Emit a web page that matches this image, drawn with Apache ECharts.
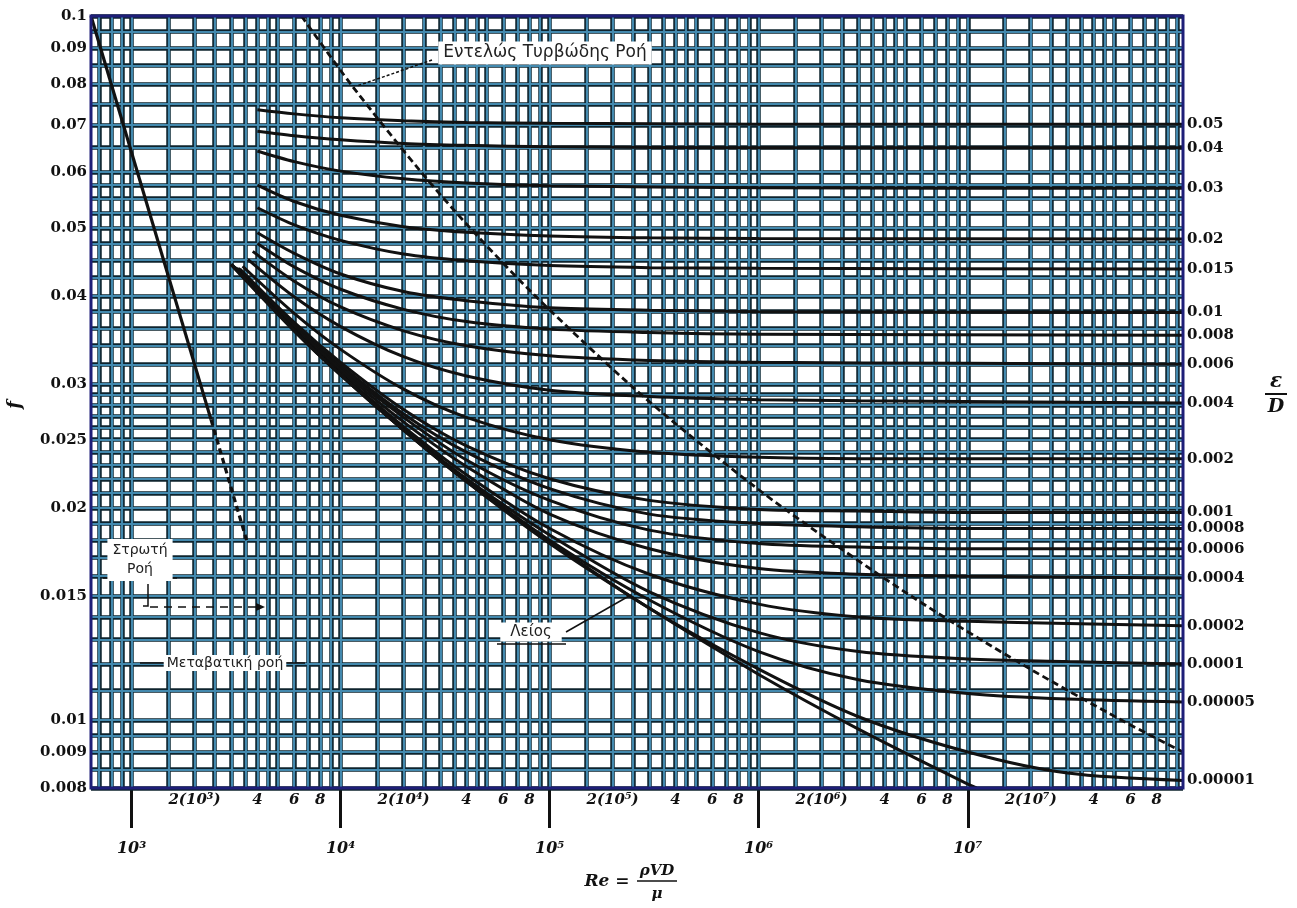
<!DOCTYPE html>
<html><head><meta charset="utf-8">
<script src="https://cdn.jsdelivr.net/npm/echarts@6.0.0/dist/echarts.min.js"></script>
<style>html,body{margin:0;padding:0;background:#fff}#c{width:1297px;height:908px}</style>
</head><body><div id="c"></div>
<script>
// ---- axis ranges & tick labels ----
const reMin = 640, reMax = 1.07e8, fMin = 0.008, fMax = 0.1;
const fTickLabels = [0.1, 0.09, 0.08, 0.07, 0.06, 0.05, 0.04, 0.03, 0.025, 0.02, 0.015, 0.01, 0.009, 0.008];
const reMajorTicks = [1e3, 1e4, 1e5, 1e6, 1e7];
const reMinorTicks = [2e3, 4e3, 6e3, 8e3, 2e4, 4e4, 6e4, 8e4, 2e5, 4e5, 6e5, 8e5, 2e6, 4e6, 6e6, 8e6, 2e7, 4e7, 6e7, 8e7];
const gridMantissas = [1, 1.5, 2, 2.5, 3, 3.5, 4, 4.5, 5, 6, 7, 8, 9];
const gridDecades = [1e2, 1e3, 1e4, 1e5, 1e6, 1e7, 1e8];
const gridF = [0.008, 0.0085, 0.009, 0.0095, 0.01, 0.011, 0.012, 0.013, 0.014, 0.015, 0.016, 0.017, 0.018, 0.019,
  0.02, 0.021, 0.022, 0.023, 0.024, 0.025, 0.026, 0.027, 0.028, 0.029, 0.03, 0.032, 0.034, 0.036, 0.038,
  0.04, 0.0425, 0.045, 0.0475, 0.05, 0.0525, 0.055, 0.0575, 0.06, 0.065, 0.07, 0.075, 0.08, 0.085, 0.09, 0.095, 0.1];

// ---- relative roughness curves [Re, f] ----
const roughness = ['0.05', '0.04', '0.03', '0.02', '0.015', '0.01', '0.008', '0.006', '0.004', '0.002', '0.001',
  '0.0008', '0.0006', '0.0004', '0.0002', '0.0001', '0.00005', '0.00001'];
const c0_05 = [[4000,0.0736],[6000,0.0726],[1e4,0.0717],[2e4,0.0710],[4e4,0.0706],[1e5,0.0704],[1e6,0.0702],[1.07e8,0.0702]];
const c0_04 = [[4000,0.0686],[6000,0.0676],[1e4,0.0667],[2e4,0.0659],[4e4,0.0655],[1e5,0.0652],[1e6,0.0650],[1.07e8,0.0650]];
const c0_03 = [[4000,0.0643],[6000,0.0621],[1e4,0.0602],[2e4,0.0587],[4e4,0.0579],[1e5,0.0574],[1e6,0.0570],[1.07e8,0.0569]];
const c0_02 = [[4000,0.0575],[6000,0.0545],[1e4,0.0521],[2e4,0.0502],[4e4,0.0493],[1e5,0.0487],[3e5,0.0484],[1e6,0.0483],[1.07e8,0.0482]];
const c0_015 = [[4000,0.0534],[6000,0.0505],[1e4,0.0480],[2e4,0.0459],[4e4,0.0449],[1e5,0.0442],[3e5,0.0439],[1e6,0.0438],[1.07e8,0.0437]];
const c0_01 = [[4000,0.0492],[6000,0.0460],[1e4,0.0430],[2e4,0.0406],[4e4,0.0394],[1e5,0.0385],[3e5,0.0382],[1e6,0.0380],[1.07e8,0.0379]];
const c0_008 = [[4000,0.0475],[6000,0.0440],[1e4,0.0409],[2e4,0.0383],[4e4,0.0368],[1e5,0.0359],[3e5,0.0355],[1e6,0.0353],[1.07e8,0.0352]];
const c0_006 = [[3800,0.0463],[6000,0.0420],[1e4,0.0386],[2e4,0.0357],[4e4,0.0340],[1e5,0.0329],[3e5,0.0324],[1e6,0.0322],[1e7,0.0321],[1.07e8,0.0320]];
const c0_004 = [[3600,0.0451],[6000,0.0399],[1e4,0.0362],[2e4,0.0328],[4e4,0.0308],[1e5,0.0294],[3e5,0.0288],[1e6,0.0285],[3e6,0.0284],[1.07e8,0.0282]];
const c0_002 = [[3400,0.0441],[6000,0.0378],[1e4,0.0336],[2e4,0.0295],[4e4,0.0269],[1e5,0.0250],[3e5,0.0240],[1e6,0.0236],[3e6,0.0235],[1e7,0.0235],[1.07e8,0.0235]];
const c0_001 = [[3300,0.0437],[6000,0.0367],[1e4,0.0322],[2e4,0.0276],[4e4,0.0245],[1e5,0.0220],[3e5,0.0205],[1e6,0.0199],[3e6,0.0198],[1e7,0.0197],[1.07e8,0.0197]];
const c0_0008 = [[3250,0.0438],[6000,0.0365],[1e4,0.0319],[2e4,0.0272],[4e4,0.0240],[1e5,0.0213],[3e5,0.0196],[1e6,0.0190],[3e6,0.0188],[1e7,0.0187],[1.07e8,0.0187]];
const c0_0006 = [[3200,0.0438],[6000,0.0363],[1e4,0.0316],[2e4,0.0269],[4e4,0.0234],[1e5,0.0205],[3e5,0.0186],[1e6,0.0178],[3e6,0.0176],[1e7,0.0175],[1.07e8,0.0175]];
const c0_0004 = [[3150,0.0439],[6000,0.0361],[1e4,0.0314],[2e4,0.0265],[4e4,0.0229],[1e5,0.0196],[3e5,0.0175],[1e6,0.0164],[3e6,0.0161],[1e7,0.0160],[1.07e8,0.0159]];
const c0_0002 = [[3100,0.0440],[6000,0.0359],[1e4,0.0311],[2e4,0.0261],[4e4,0.0223],[1e5,0.0187],[3e5,0.0161],[1e6,0.0146],[3e6,0.0140],[1e7,0.0138],[3e7,0.0137],[1.07e8,0.0136]];
const c0_0001 = [[3050,0.0442],[6000,0.0358],[1e4,0.0310],[2e4,0.0259],[4e4,0.0220],[1e5,0.0183],[3e5,0.0152],[1e6,0.0133],[3e6,0.0125],[1e7,0.0122],[3e7,0.0121],[1.07e8,0.0120]];
const c0_00005 = [[3000,0.0444],[6000,0.0358],[1e4,0.0309],[2e4,0.0258],[4e4,0.0219],[1e5,0.0180],[3e5,0.0148],[1e6,0.0125],[3e6,0.0114],[1e7,0.0109],[3e7,0.0107],[1.07e8,0.0106]];
const c0_00001 = [[3000,0.0444],[6000,0.0357],[1e4,0.0309],[2e4,0.0258],[4e4,0.0218],[1e5,0.0179],[3e5,0.0144],[1e6,0.0118],[3e6,0.0101],[1e7,0.0090],[3e7,0.0084],[1.07e8,0.0082]];
const smoothPipe = [[3000,0.0443],[6000,0.0357],[1e4,0.0309],[2e4,0.0258],[4e4,0.0218],[1e5,0.0178],[3e5,0.0144],[1e6,0.0116],[3e6,0.0097],[1e7,0.0081],[1.1e7,0.0080]];
const laminarSolid = [[640,0.1],[2400,0.0267]];
const laminarDashed = [[2400,0.0267],[3550,0.0180]];
const fullTurbulence = [[6500,0.1],[11200,0.08],[24300,0.06],[41600,0.05],[85500,0.04],[240000,0.03],[497000,0.025],
  [1.31e6,0.02],[5.34e6,0.015],[1.81e7,0.012],[5.4e7,0.01],[1.07e8,0.009]];
const roughCurves = [c0_05, c0_04, c0_03, c0_02, c0_015, c0_01, c0_008, c0_006, c0_004, c0_002, c0_001,
  c0_0008, c0_0006, c0_0004, c0_0002, c0_0001, c0_00005, c0_00001];

// ---- build ----
const L = Math.log10;
const SUP = {'0':'⁰','1':'¹','2':'²','3':'³','4':'⁴','5':'⁵','6':'⁶','7':'⁷','8':'⁸','9':'⁹'};
const sup = n => String(n).split('').map(c => SUP[c]).join('');
const gridX = [];
gridDecades.forEach(d => gridMantissas.forEach(m => { const v = m * d; if (v >= reMin && v <= reMax) gridX.push(v); }));
const gridMarks = gridX.map(v => ({xAxis: v})).concat(gridF.map(v => ({yAxis: v})));

const serif = '"DejaVu Serif", "Liberation Serif", serif';
const sans = '"DejaVu Sans", "Liberation Sans", sans-serif';
const INK = '#111';

function gridSeries(color, width, z) {
  return {
    type: 'line', data: [[1000, 0.05]], symbol: 'none', lineStyle: {opacity: 0}, silent: true, z: z,
    xAxisIndex: 0, yAxisIndex: 0,
    markLine: {
      silent: true, symbol: ['none', 'none'], label: {show: false}, animation: false, precision: 10,
      emphasis: {disabled: true},
      lineStyle: {color: color, width: width, type: 'solid', opacity: 1},
      data: gridMarks
    }
  };
}

const series = [gridSeries('#0e232d', 4.5, 1), gridSeries('#4389ae', 2.2, 2)];
roughCurves.forEach((d, i) => {
  series.push({
    type: 'line', name: roughness[i], data: d, xAxisIndex: 0, yAxisIndex: 0,
    smooth: 0.3, symbol: 'none', z: 5,
    lineStyle: {color: INK, width: 3},
    endLabel: {show: true, formatter: '{a}', distance: 4, color: INK, fontFamily: serif, fontWeight: 'bold', fontSize: 15}
  });
});
series.push({type: 'line', data: smoothPipe, smooth: 0.3, symbol: 'none', z: 5,
  lineStyle: {color: INK, width: 3}});
series.push({type: 'line', data: laminarSolid, symbol: 'none', z: 5, lineStyle: {color: INK, width: 3.2}});
series.push({type: 'line', data: laminarDashed, symbol: 'none', z: 5, lineStyle: {color: INK, width: 3.2, type: [6, 4]}});
series.push({type: 'line', data: fullTurbulence, smooth: 0.3, symbol: 'none', z: 6,
  lineStyle: {color: INK, width: 2.8, type: [7, 4]}});

const fLabelFmt = v => {
  let best = fTickLabels[0];
  fTickLabels.forEach(t => { if (Math.abs(L(t) - v) < Math.abs(L(best) - v)) best = t; });
  return String(best);
};
const reMinorFmt = v => {
  const e = Math.floor(v + 1e-9);
  const m = Math.round(Math.pow(10, v - e));
  return m === 2 ? '2(10' + sup(e) + ')' : String(m);
};

const option = {
  animation: false,
  backgroundColor: '#fff',
  grid: {left: 91, right: 114, top: 16, bottom: 120, show: true, backgroundColor: '#fff', borderWidth: 0},
  xAxis: [
    {type: 'log', logBase: 10, min: reMin, max: reMax, show: false},
    {type: 'value', min: L(reMin), max: L(reMax), position: 'bottom',
      axisLine: {show: false}, splitLine: {show: false},
      axisTick: {show: true, customValues: reMajorTicks.map(L), length: 40, lineStyle: {color: INK, width: 3}},
      axisLabel: {customValues: reMajorTicks.map(L), margin: 53, formatter: v => '10' + sup(Math.round(v)),
        color: INK, fontFamily: serif, fontWeight: 'bold', fontStyle: 'italic', fontSize: 16}},
    {type: 'value', min: L(reMin), max: L(reMax), position: 'bottom',
      axisLine: {show: false}, splitLine: {show: false}, axisTick: {show: false},
      axisLabel: {customValues: reMinorTicks.map(L), margin: 5, formatter: reMinorFmt,
        color: INK, fontFamily: serif, fontWeight: 'bold', fontStyle: 'italic', fontSize: 15}}
  ],
  yAxis: [
    {type: 'log', logBase: 10, min: fMin, max: fMax, show: false},
    {type: 'value', min: L(fMin), max: L(fMax), position: 'left',
      axisLine: {show: false}, splitLine: {show: false}, axisTick: {show: false},
      axisLabel: {customValues: fTickLabels.map(L), margin: 4, formatter: fLabelFmt,
        color: INK, fontFamily: serif, fontWeight: 'bold', fontSize: 15}}
  ],
  series: series,
  graphic: [
    {type: 'rect', shape: {x: 91, y: 16, width: 1092, height: 772}, style: {fill: 'none', stroke: '#1e1e78', lineWidth: 3}, z: 100},
    // complete turbulence label
    {type: 'line', shape: {x1: 432, y1: 60, x2: 357, y2: 86}, style: {stroke: INK, lineWidth: 1.5, lineDash: [3, 2]}, z: 50},
    {type: 'text', x: 545, y: 53, z: 51, style: {text: 'Εντελώς Τυρβώδης Ροή', fontFamily: sans, fontSize: 17,
      fill: '#222', align: 'center', verticalAlign: 'middle', backgroundColor: '#fff', padding: [3, 5]}},
    // laminar flow label
    {type: 'text', x: 140, y: 560, z: 51, style: {text: 'Στρωτή\nΡοή', fontFamily: sans, fontSize: 14, lineHeight: 19,
      fill: '#222', align: 'center', verticalAlign: 'middle', backgroundColor: '#fff', padding: [2, 5]}},
    {type: 'line', shape: {x1: 103, y1: 578, x2: 177, y2: 578}, style: {stroke: INK, lineWidth: 1.5}, z: 50},
    {type: 'polyline', shape: {points: [[148, 584], [148, 606], [143, 606]]}, style: {stroke: INK, lineWidth: 1.5, fill: 'none'}, z: 50},
    {type: 'line', shape: {x1: 150, y1: 607, x2: 258, y2: 607}, style: {stroke: INK, lineWidth: 1.5, lineDash: [8, 6]}, z: 50},
    {type: 'polygon', shape: {points: [[265, 607], [256, 603], [256, 611]]}, style: {fill: INK}, z: 50},
    // transition label
    {type: 'line', shape: {x1: 140, y1: 663, x2: 305, y2: 663}, style: {stroke: INK, lineWidth: 1.5}, z: 50},
    {type: 'text', x: 225, y: 663, z: 51, style: {text: 'Μεταβατική ροή', fontFamily: sans, fontSize: 14,
      fill: '#222', align: 'center', verticalAlign: 'middle', backgroundColor: '#fff', padding: [1, 3]}},
    // smooth pipe label
    {type: 'line', shape: {x1: 566, y1: 632, x2: 629, y2: 596}, style: {stroke: INK, lineWidth: 1.5}, z: 50},
    {type: 'text', x: 531, y: 632, z: 51, style: {text: 'Λείος', fontFamily: sans, fontSize: 15,
      fill: '#222', align: 'center', verticalAlign: 'middle', backgroundColor: '#fff', padding: [2, 10]}},
    {type: 'line', shape: {x1: 497, y1: 644, x2: 566, y2: 644}, style: {stroke: INK, lineWidth: 1.5}, z: 52},
    // y axis name
    {type: 'text', x: 15, y: 405, rotation: Math.PI / 2, style: {text: 'f', fontFamily: serif, fontSize: 18,
      fontWeight: 'bold', fontStyle: 'italic', fill: INK, align: 'center', verticalAlign: 'middle'}},
    // right axis name eps/D
    {type: 'text', x: 1276, y: 382, style: {text: 'ε', fontFamily: serif, fontSize: 20, fontWeight: 'bold', fontStyle: 'italic',
      fill: INK, align: 'center', verticalAlign: 'middle'}},
    {type: 'line', shape: {x1: 1265, y1: 394, x2: 1287, y2: 394}, style: {stroke: INK, lineWidth: 2}},
    {type: 'text', x: 1276, y: 407, style: {text: 'D', fontFamily: serif, fontSize: 19, fontWeight: 'bold', fontStyle: 'italic',
      fill: INK, align: 'center', verticalAlign: 'middle'}},
    // x axis name Re = rho V D / mu
    {type: 'text', x: 607, y: 882, style: {text: 'Re =', fontFamily: serif, fontSize: 17, fontWeight: 'bold', fontStyle: 'italic',
      fill: INK, align: 'center', verticalAlign: 'middle'}},
    {type: 'text', x: 657, y: 871, style: {text: 'ρVD', fontFamily: serif, fontSize: 15, fontWeight: 'bold', fontStyle: 'italic',
      fill: INK, align: 'center', verticalAlign: 'middle'}},
    {type: 'line', shape: {x1: 637, y1: 881, x2: 677, y2: 881}, style: {stroke: INK, lineWidth: 1.5}},
    {type: 'text', x: 657, y: 894, style: {text: 'μ', fontFamily: serif, fontSize: 15, fontWeight: 'bold', fontStyle: 'italic',
      fill: INK, align: 'center', verticalAlign: 'middle'}}
  ]
};

const chart = echarts.init(document.getElementById('c'), null, {renderer: 'canvas'});
chart.setOption(option);
</script>
</body></html>
